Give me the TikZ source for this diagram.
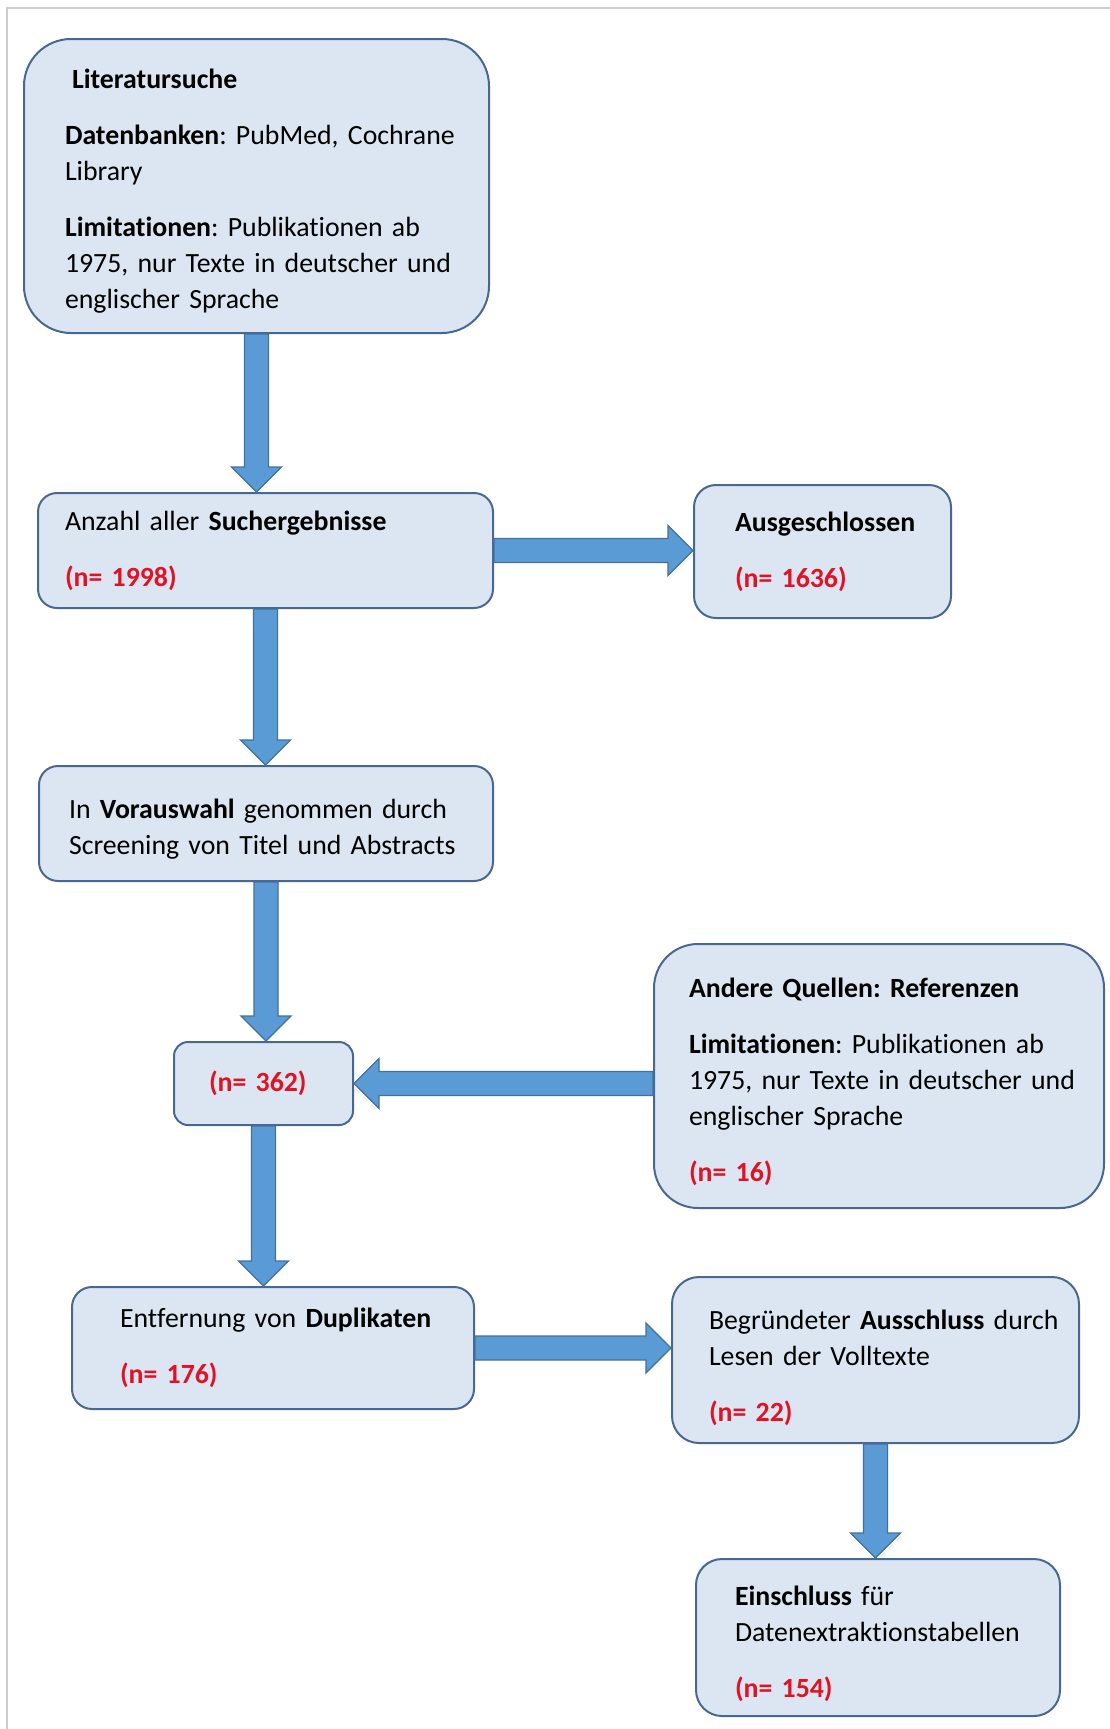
\documentclass[tikz,border=0pt]{standalone}
\usepackage{fontspec}
\setmainfont{Carlito}[Ligatures=CommonOff]
\usepackage{tikz}
\usetikzlibrary{calc}
\frenchspacing
\definecolor{boxfill}{RGB}{220,230,242}
\definecolor{boxline}{RGB}{72,104,146}
\definecolor{arrowfill}{RGB}{91,155,213}
\definecolor{arrowline}{RGB}{65,113,156}
\definecolor{nred}{RGB}{224,18,36}
\definecolor{framegray}{RGB}{205,205,205}
\newcommand{\nval}[1]{{\color{nred}\bfseries (n= #1)}}
\tikzstyle{flowbox}=[rectangle,draw=boxline,fill=boxfill,line width=2pt,anchor=north west,inner xsep=0pt,inner ysep=0pt,align=left,font=\fontsize{27.8}{36}\selectfont]
\tikzstyle{textindent}=[execute at begin node={\leftskip=#1\relax}]
\tikzstyle{textdrop}=[execute at begin node={\rule{0pt}{#1}}]
\tikzstyle{blockarrow}=[draw=arrowline,fill=arrowfill,line width=1.3pt,line join=miter,
  to path={($(\tikztostart)!12pt!90:(\tikztotarget)$)
    -- ($($(\tikztotarget)!25pt!(\tikztostart)$)!12pt!90:(\tikztotarget)$)
    -- ($($(\tikztotarget)!25pt!(\tikztostart)$)!25pt!90:(\tikztotarget)$)
    -- (\tikztotarget)
    -- ($($(\tikztotarget)!25pt!(\tikztostart)$)!25pt!-90:(\tikztotarget)$)
    -- ($($(\tikztotarget)!25pt!(\tikztostart)$)!12pt!-90:(\tikztotarget)$)
    -- ($(\tikztostart)!12pt!-90:(\tikztotarget)$) -- cycle}]

\begin{document}
\begin{tikzpicture}[x=1pt,y=-1pt]
    \useasboundingbox (0,0) rectangle (1110,1729);
    \draw[framegray,line width=2.5pt] (7,1729) -- (7,8) -- (1110,8);

    % boxes of the flow chart
    \node[flowbox,rounded corners=47pt,minimum width=465pt,minimum height=294pt,text width=463pt,textindent=40pt,textdrop=30pt] (lit) at (23,38)
        {\hspace*{7pt}\textbf{Literatursuche}\\[20pt]
         \textbf{Datenbanken}: PubMed, Cochrane\\
         Library\\[20pt]
         \textbf{Limitationen}: Publikationen ab\\
         1975, nur Texte in deutscher und\\
         englischer Sprache};
    \node[flowbox,rounded corners=19pt,minimum width=455pt,minimum height=115pt,text width=453pt,textindent=26pt] (anz) at (37,492)
        {Anzahl aller \textbf{Suchergebnisse}\\[20pt] \nval{1998}};
    \node[flowbox,rounded corners=22pt,minimum width=257pt,minimum height=133pt,text width=255pt,textindent=40pt] (aus) at (693,484)
        {\textbf{Ausgeschlossen}\\[20pt] \nval{1636}};
    \node[flowbox,rounded corners=19pt,minimum width=454pt,minimum height=115pt,text width=452pt,textindent=29pt,textdrop=31pt] (vor) at (38,765)
        {In \textbf{Vorauswahl} genommen durch\\ Screening von Titel und Abstracts};
    \node[flowbox,rounded corners=14pt,minimum width=179pt,minimum height=83pt,text width=177pt,textindent=34pt] (n362) at (173,1041)
        {\nval{362}};
    \node[flowbox,rounded corners=44pt,minimum width=450pt,minimum height=264pt,text width=448pt,textindent=34pt,textdrop=31pt] (and) at (653,943)
        {\textbf{Andere Quellen: Referenzen}\\[20pt]
         \textbf{Limitationen}: Publikationen ab\\
         1975, nur Texte in deutscher und\\
         englischer Sprache\\[20pt]
         \nval{16}};
    \node[flowbox,rounded corners=20pt,minimum width=402pt,minimum height=122pt,text width=400pt,textindent=47pt] (dup) at (71,1286)
        {Entfernung von \textbf{Duplikaten}\\[20pt] \nval{176}};
    \node[flowbox,rounded corners=27pt,minimum width=407pt,minimum height=166pt,text width=405pt,textindent=36pt,textdrop=36pt] (beg) at (671,1276)
        {Begründeter \textbf{Ausschluss} durch\\ Lesen der Volltexte\\[20pt] \nval{22}};
    \node[flowbox,rounded corners=26pt,minimum width=364pt,minimum height=157pt,text width=362pt,textindent=38pt,textdrop=33pt] (ein) at (695,1558)
        {\textbf{Einschluss} für\\ Datenextraktionstabellen\\[20pt] \nval{154}};

    % block arrows between the boxes
    \foreach \source/ \dest in {lit.south/lit.south |- anz.north, anz.east/anz.east -| aus.west,
        anz.south/anz.south |- vor.north, vor.south/vor.south |- n362.north,
        n362.east -| and.west/n362.east, n362.south/n362.south |- dup.north,
        dup.east/dup.east -| beg.west, beg.south/beg.south |- ein.north}
        \path[blockarrow] (\source) to (\dest);
\end{tikzpicture}
\end{document}
